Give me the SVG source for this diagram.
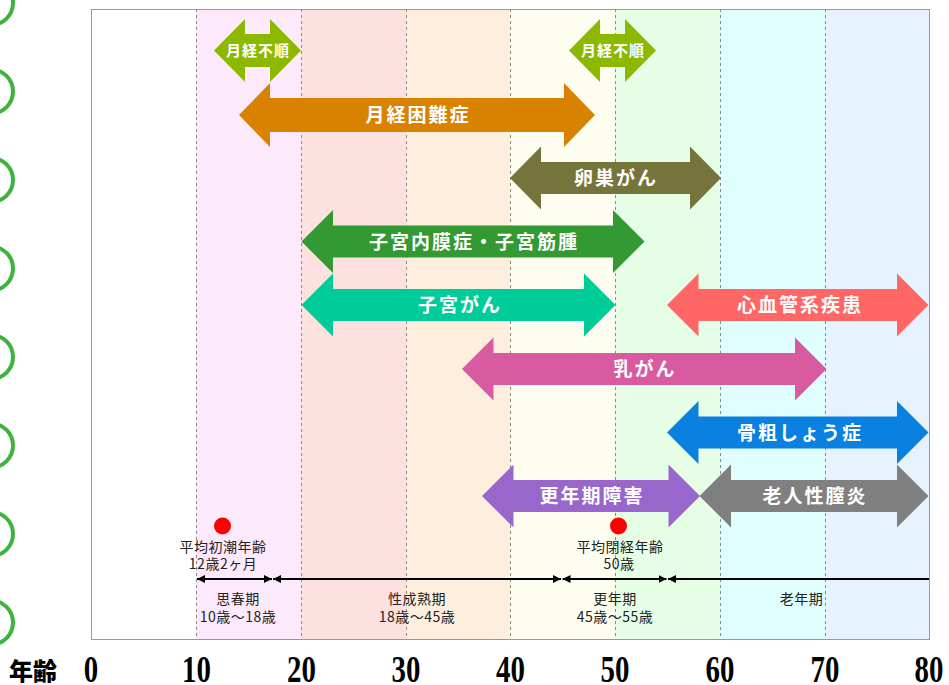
<svg xmlns="http://www.w3.org/2000/svg" width="949" height="685" viewBox="0 0 949 685">
<defs>
<style>
.ring{fill:none;stroke:#3db43d;stroke-width:4}
.grid{stroke:#8a8a8a;stroke-width:1;stroke-dasharray:3,3}
.lbl{font-family:"Noto Sans CJK JP","Noto Sans",sans-serif;font-weight:bold;fill:#fff;font-size:19px;letter-spacing:2px;text-anchor:middle}
.sm{font-size:15px;letter-spacing:1px}
.note{font-family:"Noto Sans CJK JP","Noto Sans",sans-serif;font-size:14px;letter-spacing:0.5px;fill:#222;text-anchor:middle}
.dim{stroke:#000;stroke-width:2;fill:none}
.num{font-family:"Liberation Serif","Noto Serif CJK JP",serif;font-weight:bold;font-size:37px;fill:#000;text-anchor:middle}
.dot{fill:#ff0000}
</style>
<marker id="ah" markerUnits="userSpaceOnUse" markerWidth="8" markerHeight="8" refX="8" refY="4" orient="auto-start-reverse">
<path d="M0,0 L8,4 L0,8 z" fill="#000"/>
</marker>
</defs>
<rect width="949" height="685" fill="#fff"/>
<g id="binding">
<circle class="ring" cx="-9" cy="3" r="22"/>
<circle class="ring" cx="-9" cy="91.5" r="22"/>
<circle class="ring" cx="-9" cy="180" r="22"/>
<circle class="ring" cx="-9" cy="268.5" r="22"/>
<circle class="ring" cx="-9" cy="357" r="22"/>
<circle class="ring" cx="-9" cy="445.5" r="22"/>
<circle class="ring" cx="-9" cy="534" r="22"/>
<circle class="ring" cx="-9" cy="622.5" r="22"/>
</g>
<g id="chart-bg">
<rect x="91" y="9" width="105" height="630" fill="#ffffff"/>
<rect x="196" y="9" width="105" height="630" fill="#fce9fc"/>
<rect x="301" y="9" width="105" height="630" fill="#fde0e0"/>
<rect x="406" y="9" width="104" height="630" fill="#feeede"/>
<rect x="510" y="9" width="105" height="630" fill="#fefef0"/>
<rect x="615" y="9" width="105" height="630" fill="#e6fde6"/>
<rect x="720" y="9" width="105" height="630" fill="#e0fefe"/>
<rect x="825" y="9" width="104" height="630" fill="#e6f2fe"/>
<line class="grid" x1="196.5" y1="9" x2="196.5" y2="639"/>
<line class="grid" x1="301.5" y1="9" x2="301.5" y2="639"/>
<line class="grid" x1="406.5" y1="9" x2="406.5" y2="639"/>
<line class="grid" x1="510.5" y1="9" x2="510.5" y2="639"/>
<line class="grid" x1="615.5" y1="9" x2="615.5" y2="639"/>
<line class="grid" x1="720.5" y1="9" x2="720.5" y2="639"/>
<line class="grid" x1="825.5" y1="9" x2="825.5" y2="639"/>
<rect x="91.5" y="9.5" width="838" height="630" fill="none" stroke="#999" stroke-width="1"/>
</g>
<g id="n-gekkeifujun-1">
<polygon fill="#8cb900" points="214,50.5 245,19 245,34 270,34 270,19 301,50.5 270,82 270,67 245,67 245,82"/>
<text class="lbl sm" x="258" y="56">月経不順</text>
</g>
<g id="n-gekkeifujun-2">
<polygon fill="#8cb900" points="569,50.5 600,19 600,34 625,34 625,19 656,50.5 625,82 625,67 600,67 600,82"/>
<text class="lbl sm" x="613" y="56">月経不順</text>
</g>
<g id="n-gekkeikonnan">
<polygon fill="#d98200" points="239,115 270,83 270,98 564,98 564,83 595,115 564,147 564,132 270,132 270,147"/>
<text class="lbl" x="418" y="122">月経困難症</text>
</g>
<g id="n-ransougan">
<polygon fill="#75743a" points="510,178 541,146.5 541,162 690,162 690,146.5 721,178 690,209.5 690,194 541,194 541,209.5"/>
<text class="lbl" x="616" y="185">卵巣がん</text>
</g>
<g id="n-shikyunaimaku">
<polygon fill="#339933" points="301.5,241.5 333,210 333,225.5 613,225.5 613,210 644.5,241.5 613,273 613,257.5 333,257.5 333,273"/>
<text class="lbl" x="474" y="248.5">子宮内膜症・子宮筋腫</text>
</g>
<g id="n-shikyugan">
<polygon fill="#00cc99" points="301.5,305 333,273.5 333,289 584,289 584,273.5 615.5,305 584,336.5 584,321 333,321 333,336.5"/>
<text class="lbl" x="460" y="312">子宮がん</text>
</g>
<g id="n-shinkekkan">
<polygon fill="#ff6666" points="667,305 698.5,273.5 698.5,289 897,289 897,273.5 928.5,305 897,336.5 897,321 698.5,321 698.5,336.5"/>
<text class="lbl" x="800" y="312">心血管系疾患</text>
</g>
<g id="n-nyugan">
<polygon fill="#d85aa0" points="462,369 493.5,337.5 493.5,353 795,353 795,337.5 826.5,369 795,400.5 795,385 493.5,385 493.5,400.5"/>
<text class="lbl" x="645" y="376">乳がん</text>
</g>
<g id="n-kotsusosho">
<polygon fill="#0a80e0" points="667,432.5 698.5,401 698.5,416.5 897,416.5 897,401 928.5,432.5 897,464 897,448.5 698.5,448.5 698.5,464"/>
<text class="lbl" x="800" y="439.5">骨粗しょう症</text>
</g>
<g id="n-konenki">
<polygon fill="#9966cc" points="482,496 513.5,464.5 513.5,480 668.5,480 668.5,464.5 700,496 668.5,527.5 668.5,512 513.5,512 513.5,527.5"/>
<text class="lbl" x="592" y="503">更年期障害</text>
</g>
<g id="n-roujinsei">
<polygon fill="#808080" points="699.5,496 731,464.5 731,480 897,480 897,464.5 928.5,496 897,527.5 897,512 731,512 731,527.5"/>
<text class="lbl" x="815" y="503">老人性膣炎</text>
</g>
<g id="n-shocho">
<circle class="dot" cx="222.5" cy="526" r="8.5"/>
<text class="note" x="223" y="552">平均初潮年齢</text>
<text class="note" x="223" y="569">12歳2ヶ月</text>
</g>
<g id="n-heikei">
<circle class="dot" cx="618.5" cy="526" r="8.5"/>
<text class="note" x="620" y="552">平均閉経年齢</text>
<text class="note" x="619" y="569">50歳</text>
</g>
<g id="connectors">
<line class="dim" x1="197" y1="579" x2="272" y2="579" marker-start="url(#ah)" marker-end="url(#ah)"/>
<line class="dim" x1="273" y1="579" x2="561" y2="579" marker-start="url(#ah)" marker-end="url(#ah)"/>
<line class="dim" x1="562.5" y1="579" x2="666.5" y2="579" marker-start="url(#ah)" marker-end="url(#ah)"/>
<line class="dim" x1="668" y1="579" x2="929" y2="579" marker-start="url(#ah)"/>
</g>
<g id="n-shishunki">
<text class="note" x="238" y="604">思春期</text>
<text class="note" x="238" y="622">10歳〜18歳</text>
</g>
<g id="n-seiseijuku">
<text class="note" x="417" y="604">性成熟期</text>
<text class="note" x="417" y="622">18歳〜45歳</text>
</g>
<g id="n-konenkiki">
<text class="note" x="615" y="604">更年期</text>
<text class="note" x="615" y="622">45歳〜55歳</text>
</g>
<g id="n-ronenki">
<text class="note" x="801.5" y="604">老年期</text>
</g>
<g id="axis">
<text x="9" y="680" font-family="'Noto Sans CJK JP',sans-serif" font-weight="900" font-size="24" fill="#000">年齢</text>
<g transform="translate(0,682) scale(0.78,1)">
<text class="num" x="116.7" y="0">0</text>
<text class="num" x="251.9" y="0">10</text>
<text class="num" x="386.5" y="0">20</text>
<text class="num" x="520.5" y="0">30</text>
<text class="num" x="654.5" y="0">40</text>
<text class="num" x="788.5" y="0">50</text>
<text class="num" x="923.1" y="0">60</text>
<text class="num" x="1057.7" y="0">70</text>
<text class="num" x="1191" y="0">80</text>
</g>
</g>
</svg>
